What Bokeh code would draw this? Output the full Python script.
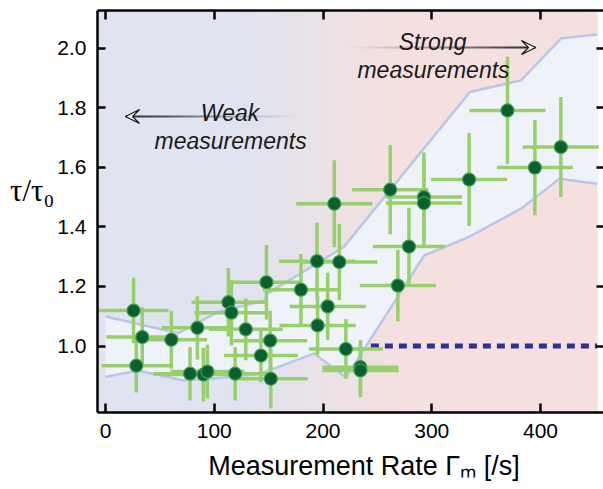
import numpy as np
from bokeh.plotting import figure
from bokeh.models import (Range1d, LinearAxis, FixedTicker, Label, Arrow, VeeHead,
                          ColumnDataSource, CustomJSTickFormatter, PrintfTickFormatter)
from bokeh.core.properties import value
from bokeh.embed import file_html
from bokeh.resources import INLINE

# ---------------- data ----------------
rate = [25.8, 33.8, 28.3, 60.5, 84.5, 77.7, 90.0, 93.7, 113.0, 115.8, 129.0, 119.2,
        148.0, 151.4, 142.9, 152.0, 179.7, 194.5, 215.0, 204.3, 195.0, 221.0, 210.4,
        234.4, 234.4, 261.8, 292.8, 292.8, 279.0, 268.8, 369.6, 334.3, 394.8, 418.7]
tau = [1.119, 1.030, 0.934, 1.021, 1.061, 0.907, 0.904, 0.914, 1.147, 1.112, 1.056, 0.907,
       1.214, 1.018, 0.968, 0.890, 1.189, 1.285, 1.282, 1.133, 1.069, 0.990, 1.478,
       0.929, 0.918, 1.525, 1.500, 1.480, 1.334, 1.203, 1.791, 1.559, 1.599, 1.668]
rate_err = [32, 33, 32, 33, 33, 34, 34, 34, 34, 34, 34, 34,
            33, 34, 34, 34, 35, 35, 35, 35, 35, 34, 35,
            35, 35, 35, 35, 35, 33, 35, 35, 35, 35, 35]
tau_err = [0.11, 0.10, 0.09, 0.097, 0.106, 0.09, 0.09, 0.09, 0.115, 0.11, 0.104, 0.09,
           0.125, 0.10, 0.09, 0.10, 0.12, 0.13, 0.128, 0.113, 0.10, 0.10, 0.146,
           0.09, 0.09, 0.15, 0.15, 0.15, 0.13, 0.12, 0.18, 0.156, 0.16, 0.168]

band_up_x = [0, 67, 103, 147, 149, 219, 335, 382, 419, 452]
band_up_y = [1.099, 1.043, 1.114, 1.153, 1.176, 1.332, 1.853, 1.892, 2.033, 2.046]
band_lo_x = [0, 29.5, 72, 109, 143, 192, 221, 293, 334, 382, 417.5, 452]
band_lo_y = [0.896, 0.918, 0.884, 0.894, 0.908, 0.975, 0.894, 1.304, 1.366, 1.461, 1.562, 1.545]

ref_x = [244, 452]
ref_y = [1.0, 1.0]

x_ticks = [0, 100, 200, 300, 400]
y_ticks = [1.0, 1.2, 1.4, 1.6, 1.8, 2.0]

x_title = "\u2002\u2002Measurement Rate \u0393\u2098 [/s]"
y_title = "\u03c4/\u03c4\u2080\n\u2002"

# ---------------- figure ----------------
X0, X1 = -7.36, 457.9
Y0, Y1 = 0.7767, 2.1266
p = figure(width=603, height=489, output_backend="svg", toolbar_location=None,
           x_range=Range1d(X0, X1), y_range=Range1d(Y0, Y1),
           min_border_left=97, min_border_right=0, min_border_top=10, min_border_bottom=77,
           x_axis_location=None, y_axis_location=None)
p.grid.visible = False
p.outline_line_color = None
p.background_fill_color = "white"
p.border_fill_color = "white"

# background gradient (blue-grey -> pink)
N = 300
xs_bg = np.linspace(X0, 452.5, N)
c_left = np.array([224, 228, 240])
c_right = np.array([246, 224, 223])
t = np.clip((xs_bg - 125) / (275 - 125), 0, 1)
img = np.zeros((1, N), dtype=np.uint32)
view = img.view(dtype=np.uint8).reshape((1, N, 4))
for i in range(N):
    c = c_left * (1 - t[i]) + c_right * t[i]
    view[0, i, 0] = int(c[0]); view[0, i, 1] = int(c[1]); view[0, i, 2] = int(c[2]); view[0, i, 3] = 255
p.image_rgba(image=[img], x=X0, y=Y0, dw=452.5 - X0, dh=Y1 - Y0)

# band
p.patch(band_up_x + band_lo_x[::-1], band_up_y + band_lo_y[::-1],
        fill_color="#eff3f9", line_color=None)
p.line(band_up_x, band_up_y, line_color="#b8c7e7", line_width=2.5)
p.line(band_lo_x, band_lo_y, line_color="#b8c7e7", line_width=2.5)

# reference dashed line
p.line(ref_x, ref_y, line_color="#2e3192", line_width=5, line_dash="8 6")

# error bars + points
r = np.array(rate); ta = np.array(tau); re = np.array(rate_err); te = np.array(tau_err)
src = ColumnDataSource(dict(x=r, y=ta, x0=r - re, x1=r + re, y0=ta - te, y1=ta + te))
p.segment(x0="x0", y0="y", x1="x1", y1="y", source=src, line_color="#98cf6d", line_width=3.5)
p.segment(x0="x", y0="y0", x1="x", y1="y1", source=src, line_color="#98cf6d", line_width=3.5)
p.scatter(x="x", y="y", source=src, marker="circle", size=13,
          fill_color="#0c5f2f", line_color="#3f9d4e", line_width=1.2)

# axes
def mk_axis(ticks, labels=True, **kw):
    ax = LinearAxis(ticker=FixedTicker(ticks=ticks), axis_line_width=2.5,
                    major_tick_line_width=2.5, major_tick_out=0, minor_tick_line_color=None,
                    major_label_text_font="Liberation Sans", major_label_text_font_size="21px",
                    major_label_text_color="black", **kw)
    if not labels:
        ax.formatter = CustomJSTickFormatter(code="return ''")
        ax.major_label_standoff = 0
    return ax

ax_b = mk_axis(x_ticks, major_tick_in=9, major_label_standoff=11)
ax_b.axis_label = x_title
ax_b.axis_label_text_font = "Liberation Sans"
ax_b.axis_label_text_font_size = "27px"
ax_b.axis_label_text_font_style = "normal"
ax_b.axis_label_text_color = "black"
ax_b.axis_label_standoff = 10

ax_l = mk_axis(y_ticks, major_tick_in=8, major_label_standoff=11)
ax_l.formatter = PrintfTickFormatter(format="%.1f")
ax_l.axis_label = y_title
ax_l.axis_label_orientation = "horizontal"
ax_l.axis_label_text_font = "Liberation Serif"
ax_l.axis_label_text_font_size = "31px"
ax_l.axis_label_text_font_style = "normal"
ax_l.axis_label_text_color = "black"
ax_l.axis_label_standoff = 0

ax_t = mk_axis(x_ticks, labels=False, major_tick_in=9)
ax_r = mk_axis(y_ticks, labels=False, major_tick_in=7)
ax_r.axis_line_color = None
p.add_layout(ax_b, "below")
p.add_layout(ax_l, "left")
p.add_layout(ax_t, "above")
p.add_layout(ax_r, "right")

# texts in data space
def lab(x, y, text, font, size, style="normal", align="left", baseline="alphabetic"):
    p.add_layout(Label(x=x, y=y, text=text, text_font=font, text_font_size=size,
                       text_font_style=style, text_align=align, text_baseline=baseline,
                       text_color="#1a1a1a"))

# annotation arrows with fading shafts
def fade_arrow(x_tail, x_tip, y, n=60):
    xs = np.linspace(x_tail, x_tip, n + 1)
    a = np.linspace(0.0, 1.0, n) ** 1.3
    p.segment(x0=xs[:-1], y0=[y] * n, x1=xs[1:], y1=[y] * n, line_color="#1a1a1a",
              line_alpha=a, line_width=2)
    p.add_layout(Arrow(end=VeeHead(size=14, fill_color="white", line_color="#1a1a1a",
                                   line_width=1.3),
                       x_start=x_tip - (x_tip - x_tail) * 0.01, y_start=y, x_end=x_tip, y_end=y,
                       line_alpha=0))

fade_arrow(182, 18.4, 1.7707)
fade_arrow(219, 395.4, 2.0023)

lab(114.5, 1.784, "Weak", "Liberation Sans", "23px", style="italic", align="center")
lab(115.0, 1.690, "measurements", "Liberation Sans", "23px", style="italic", align="center")
lab(300.7, 2.020, "Strong", "Liberation Sans", "23px", style="italic", align="center")
lab(301.6, 1.926, "measurements", "Liberation Sans", "23px", style="italic", align="center")

open("out.html", "w").write(file_html(p, INLINE))
